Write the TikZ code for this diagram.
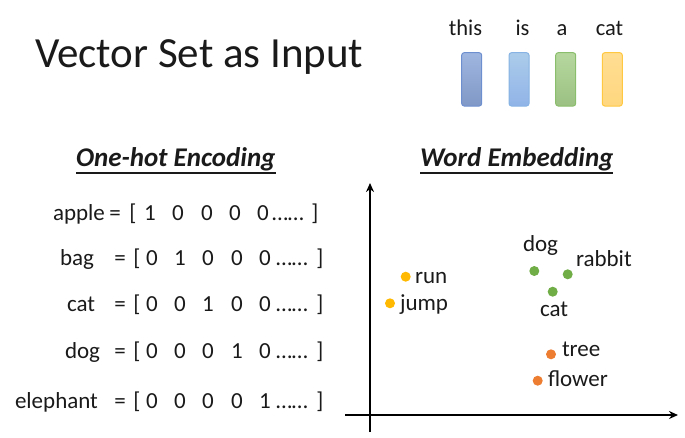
\documentclass[tikz,border=0pt]{standalone}
\usepackage{fontspec}
\setmainfont{Carlito}
\usetikzlibrary{arrows.meta}
\definecolor{txt}{HTML}{1A1A1A}
\definecolor{bblue}{HTML}{8EA9DB}
\definecolor{bbluee}{HTML}{6E8FCF}
\definecolor{lblue}{HTML}{9DC3E6}
\definecolor{lbluee}{HTML}{86B3E3}
\definecolor{bgreen}{HTML}{A9D18E}
\definecolor{bgreene}{HTML}{8BBE6C}
\definecolor{byel}{HTML}{FFD77F}
\definecolor{byele}{HTML}{FFC840}
\definecolor{dyel}{HTML}{FFB900}
\definecolor{dgreen}{HTML}{70AD47}
\definecolor{dorange}{HTML}{ED7D31}
\tikzset{
  every node/.style={inner sep=0pt, outer sep=0pt, text=txt},
  row/.style={font=\fontsize{23}{26}\selectfont, anchor=base},
  rowl/.style={font=\fontsize{23}{26}\selectfont, anchor=base west},
  word/.style={font=\fontsize{22.5}{26}\selectfont, anchor=base},
  lab/.style={font=\fontsize{23}{26}\selectfont, anchor=base west},
  head/.style={font=\fontsize{27}{30}\selectfont\bfseries\itshape, anchor=base west},
  bar/.style={rounded corners=2.5pt, line width=1pt},
  axis/.style={line width=2pt, -{Stealth[length=9pt,width=8pt]}},
  pt/.style={circle, minimum size=10pt}
}
\begin{document}
\begin{tikzpicture}[x=1pt,y=-1pt]
\useasboundingbox (0,0) rectangle (685,437);
% title
\node[anchor=base west, font=\fontsize{43}{50}\selectfont] (title) at (35,67) {Vector Set as Input};
% top words
\node[word] (w1) at (465.5,35) {this};
\node[word] (w2) at (522.5,35) {is};
\node[word] (w3) at (562,35) {a};
\node[word] (w4) at (609.5,35) {cat};
\draw[bar, draw=bbluee, top color=bblue!85!white, bottom color=bblue!90!black] (461.7,52.7) rectangle (481.7,106);
\draw[bar, draw=lbluee, top color=lblue!85!white, bottom color=lblue!92!blue] (509,52.7) rectangle (529,106);
\draw[bar, draw=bgreene, top color=bgreen!85!white, bottom color=bgreen!92!black] (555.7,52.7) rectangle (575.7,106);
\draw[bar, draw=byele, top color=byel!85!white, bottom color=byel] (602.3,52.7) rectangle (622.3,106);
% headings
\node[head] (h1) at (76,166.5) {One-hot Encoding};
\draw[line width=1.3pt, txt] (h1.west |- 0,173) -- (h1.east |- 0,173);
\node[head] (h2) at (420,166.5) {Word Embedding};
\draw[line width=1.3pt, txt] (h2.west |- 0,173) -- (h2.east |- 0,173);
% one-hot rows
\node[rowl] (lapple) at (53,220) {apple};
\node[row] (eq1) at (115,220) {=};
\node[row] (lb1) at (133,220) {[};
\foreach \v/\x [count=\i] in {1/150,0/178,0/207,0/235,0/263}{\node[row] (r1d\i) at (\x,220) {\v};}
\node[rowl] (dots1) at (272,220) {……};
\node[row] (rb1) at (315,220) {]};
\newcommand\onerow[8]{%
  \node[rowl] (l#1) at (#2,#3) {#4};
  \node[row] (eq#1) at (120,#3) {=};
  \node[row] (lb#1) at (137,#3) {[};
  \node[row] (d#1a) at (152,#3) {#5};
  \node[row] (d#1b) at (180,#3) {#6};
  \node[row] (d#1c) at (208,#3) {#7};
  \node[row] (d#1d) at (237,#3) {#8};
}
\onerow{bag}{60}{265}{bag}{0}{1}{0}{0}
\node[row] (d5bag) at (265,265) {0};
\node[rowl] (dotsbag) at (276,265) {……};
\node[row] (rbbag) at (320,265) {]};
\onerow{cat}{67}{311.7}{cat}{0}{0}{1}{0}
\node[row] (d5cat) at (265,311.7) {0};
\node[rowl] (dotscat) at (276,311.7) {……};
\node[row] (rbcat) at (320,311.7) {]};
\onerow{dog}{65}{358}{dog}{0}{0}{0}{1}
\node[row] (d5dog) at (265,358) {0};
\node[rowl] (dotsdog) at (276,358) {……};
\node[row] (rbdog) at (320,358) {]};
\onerow{ele}{15}{408}{elephant}{0}{0}{0}{0}
\node[row] (d5ele) at (265,408) {1};
\node[rowl] (dotsele) at (276,408) {……};
\node[row] (rbele) at (320,408) {]};
% axes
\coordinate (ybot) at (370,432);
\coordinate (ytop) at (370,183);
\coordinate (xl) at (345,415);
\coordinate (xr) at (678,415);
\draw[axis] (ybot) -- (ytop);
\draw[axis] (xl) -- (xr);
% points
\node[pt, fill=dyel] (prun) at (405.7,276.7) {};
\node[pt, fill=dyel] (pjump) at (390,303.3) {};
\node[pt, fill=dgreen] (pdog) at (534.3,271) {};
\node[pt, fill=dgreen] (prabbit) at (567.7,274.3) {};
\node[pt, fill=dgreen] (pcat) at (552.7,291.7) {};
\node[pt, fill=dorange] (ptree) at (551,354.3) {};
\node[pt, fill=dorange] (pflower) at (537.7,380.7) {};
\node[lab] (trun) at (415,283.3) {run};
\node[lab] (tjump) at (400,310) {jump};
\node[lab] (tdog) at (523,251.7) {dog};
\node[lab] (trabbit) at (576,266) {rabbit};
\node[lab] (tcat) at (540,316.7) {cat};
\node[lab] (ttree) at (562,356.7) {tree};
\node[lab] (tflower) at (548,386.7) {flower};
\end{tikzpicture}
\end{document}
